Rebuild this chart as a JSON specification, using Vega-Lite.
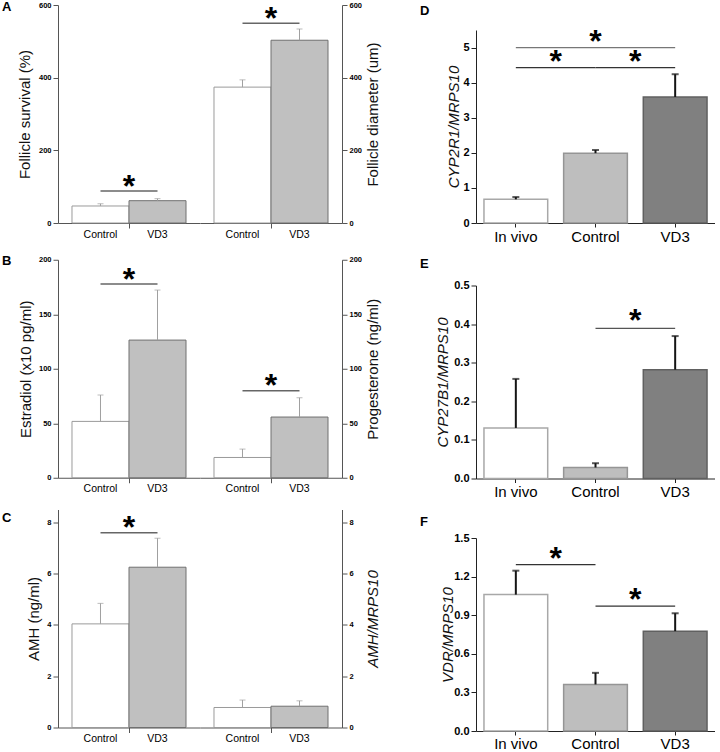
{
  "$schema": "https://vega.github.io/schema/vega-lite/v6.json",
  "padding": {"left": 2, "top": 1, "right": 0, "bottom": 0},
  "config": {
    "font": "Liberation Sans",
    "view": {"stroke": null},
    "axis": {"grid": false, "labelColor": "#000", "titleColor": "#111"},
    "title": {"color": "#000"}
  },
  "spacing": 40,
  "resolve": {"scale": {"fill": "independent", "stroke": "independent", "color": "independent"}},
  "hconcat": [
    {
      "spacing": 14.75,
      "vconcat": [
        {
          "spacing": 0, "bounds": "flush",
          "hconcat": [
            {
              "width": 142, "height": 218,
              "title": {"text": "A", "orient": "top", "anchor": "start", "frame": "group", "dx": -56, "offset": -13, "fontSize": 13, "fontWeight": "bold"},
              "data": {"values": [{"group": "Control", "mean": 46.8, "upper": 53}, {"group": "VD3", "mean": 61.4, "upper": 67}]},
              "encoding": {"x": {"field": "group", "type": "nominal", "scale": {"domain": ["Control", "VD3"], "paddingInner": 0, "paddingOuter": 0.2456}, "axis": {"title": null, "labelAngle": 0, "labelFontSize": 10.5, "labelPadding": 1, "tickSize": 5, "bandPosition": 1, "tickOpacity": {"condition": {"test": "datum.value == 'Control'", "value": 1}, "value": 0}, "domainColor": "#555", "tickColor": "#555"}}},
              "layer": [
                {"mark": {"type": "bar", "strokeWidth": 1}, "encoding": {
                  "y": {"field": "mean", "type": "quantitative", "scale": {"domain": [0, 600], "nice": false}, "axis": {"title": "Follicle survival (%)", "titleFontSize": 15, "titleFontWeight": "normal", "titleX": -25.5, "titleY": 109, "titleAngle": 270, "titleBaseline": "bottom", "values": [0, 100, 200, 300, 400, 500, 600], "labelOverlap": false, "labelExpr": "datum.value % 200 == 0 ? datum.label : ''", "labelFontSize": 7.5, "labelFontWeight": "bold", "labelPadding": 2, "tickSize": {"condition": {"test": "datum.value % 200 == 0", "value": 5}, "value": 3}, "domainColor": "#555", "tickColor": "#555"}},
                  "fill": {"field": "group", "type": "nominal", "scale": {"domain": ["Control", "VD3"], "range": ["#ffffff", "#c0c0c0"]}, "legend": null},
                  "stroke": {"field": "group", "type": "nominal", "scale": {"domain": ["Control", "VD3"], "range": ["#9a9a9a", "#707070"]}, "legend": null}}},
                {"mark": {"type": "rule", "color": "#a0a0a0", "strokeWidth": 1}, "encoding": {"y": {"field": "mean", "type": "quantitative"}, "y2": {"field": "upper"}}},
                {"mark": {"type": "tick", "color": "#a0a0a0", "size": 6, "thickness": 1}, "encoding": {"y": {"field": "upper", "type": "quantitative"}}},
                {"data": {"values": [{"from": "Control", "to": "VD3", "y": 88}]}, "layer": [
                  {"mark": {"type": "rule", "color": "#666", "strokeWidth": 1.5}, "encoding": {"x": {"field": "from", "type": "nominal"}, "x2": {"field": "to"}, "y": {"field": "y", "type": "quantitative"}}},
                  {"mark": {"type": "text", "text": "*", "fontSize": 32, "fontWeight": "bold", "baseline": "alphabetic", "dy": 5.5}, "encoding": {"x": {"field": "to", "type": "nominal", "bandPosition": 0}, "y": {"field": "y", "type": "quantitative"}}}
                ]}
              ]
            },
            {
              "width": 142, "height": 218,
              "data": {"values": [{"group": "Control", "mean": 374, "upper": 394}, {"group": "VD3", "mean": 503, "upper": 534}]},
              "encoding": {"x": {"field": "group", "type": "nominal", "scale": {"domain": ["Control", "VD3"], "paddingInner": 0, "paddingOuter": 0.2456}, "axis": {"title": null, "labelAngle": 0, "labelFontSize": 10.5, "labelPadding": 1, "tickSize": 5, "bandPosition": 1, "tickOpacity": {"condition": {"test": "datum.value == 'Control'", "value": 1}, "value": 0}, "domainColor": "#555", "tickColor": "#555"}}},
              "layer": [
                {"mark": {"type": "bar", "strokeWidth": 1}, "encoding": {
                  "y": {"field": "mean", "type": "quantitative", "scale": {"domain": [0, 600], "nice": false}, "axis": {"orient": "right", "title": "Follicle diameter (um)", "titleFontSize": 15, "titleFontWeight": "normal", "titleX": 38, "titleY": 109, "titleAngle": 270, "titleBaseline": "bottom", "values": [0, 100, 200, 300, 400, 500, 600], "labelOverlap": false, "labelExpr": "datum.value % 200 == 0 ? datum.label : ''", "labelFontSize": 7.5, "labelFontWeight": "bold", "labelPadding": 2, "tickSize": {"condition": {"test": "datum.value % 200 == 0", "value": 5}, "value": 3}, "domainColor": "#555", "tickColor": "#555"}},
                  "fill": {"field": "group", "type": "nominal", "scale": {"domain": ["Control", "VD3"], "range": ["#ffffff", "#c0c0c0"]}, "legend": null},
                  "stroke": {"field": "group", "type": "nominal", "scale": {"domain": ["Control", "VD3"], "range": ["#9a9a9a", "#707070"]}, "legend": null}}},
                {"mark": {"type": "rule", "color": "#a0a0a0", "strokeWidth": 1}, "encoding": {"y": {"field": "mean", "type": "quantitative"}, "y2": {"field": "upper"}}},
                {"mark": {"type": "tick", "color": "#a0a0a0", "size": 6, "thickness": 1}, "encoding": {"y": {"field": "upper", "type": "quantitative"}}},
                {"data": {"values": [{"from": "Control", "to": "VD3", "y": 550}]}, "layer": [
                  {"mark": {"type": "rule", "color": "#666", "strokeWidth": 1.5}, "encoding": {"x": {"field": "from", "type": "nominal"}, "x2": {"field": "to"}, "y": {"field": "y", "type": "quantitative"}}},
                  {"mark": {"type": "text", "text": "*", "fontSize": 32, "fontWeight": "bold", "baseline": "alphabetic", "dy": 5.5}, "encoding": {"x": {"field": "to", "type": "nominal", "bandPosition": 0}, "y": {"field": "y", "type": "quantitative"}}}
                ]}
              ]
            }
          ]
        },
        {
          "spacing": 0, "bounds": "flush",
          "hconcat": [
            {
              "width": 142, "height": 218,
              "title": {"text": "B", "orient": "top", "anchor": "start", "frame": "group", "dx": -56, "offset": -12.5, "fontSize": 13, "fontWeight": "bold"},
              "data": {"values": [{"group": "Control", "mean": 51.7, "upper": 75.9}, {"group": "VD3", "mean": 126.3, "upper": 172.2}]},
              "encoding": {"x": {"field": "group", "type": "nominal", "scale": {"domain": ["Control", "VD3"], "paddingInner": 0, "paddingOuter": 0.2456}, "axis": {"title": null, "labelAngle": 0, "labelFontSize": 10.5, "labelPadding": 1, "tickSize": 5, "bandPosition": 1, "tickOpacity": {"condition": {"test": "datum.value == 'Control'", "value": 1}, "value": 0}, "domainColor": "#555", "tickColor": "#555"}}},
              "layer": [
                {"mark": {"type": "bar", "strokeWidth": 1}, "encoding": {
                  "y": {"field": "mean", "type": "quantitative", "scale": {"domain": [0, 200], "nice": false}, "axis": {"title": "Estradiol (x10 pg/ml)", "titleFontSize": 15, "titleFontWeight": "normal", "titleX": -24.5, "titleY": 109, "titleAngle": 270, "titleBaseline": "bottom", "values": [0, 25, 50, 75, 100, 125, 150, 175, 200], "labelOverlap": false, "labelExpr": "datum.value % 50 == 0 ? datum.label : ''", "labelFontSize": 7.5, "labelFontWeight": "bold", "labelPadding": 2, "tickSize": {"condition": {"test": "datum.value % 50 == 0", "value": 5}, "value": 3}, "domainColor": "#555", "tickColor": "#555"}},
                  "fill": {"field": "group", "type": "nominal", "scale": {"domain": ["Control", "VD3"], "range": ["#ffffff", "#c0c0c0"]}, "legend": null},
                  "stroke": {"field": "group", "type": "nominal", "scale": {"domain": ["Control", "VD3"], "range": ["#9a9a9a", "#707070"]}, "legend": null}}},
                {"mark": {"type": "rule", "color": "#a0a0a0", "strokeWidth": 1}, "encoding": {"y": {"field": "mean", "type": "quantitative"}, "y2": {"field": "upper"}}},
                {"mark": {"type": "tick", "color": "#a0a0a0", "size": 6, "thickness": 1}, "encoding": {"y": {"field": "upper", "type": "quantitative"}}},
                {"data": {"values": [{"from": "Control", "to": "VD3", "y": 177.7}]}, "layer": [
                  {"mark": {"type": "rule", "color": "#666", "strokeWidth": 1.5}, "encoding": {"x": {"field": "from", "type": "nominal"}, "x2": {"field": "to"}, "y": {"field": "y", "type": "quantitative"}}},
                  {"mark": {"type": "text", "text": "*", "fontSize": 32, "fontWeight": "bold", "baseline": "alphabetic", "dy": 5.5}, "encoding": {"x": {"field": "to", "type": "nominal", "bandPosition": 0}, "y": {"field": "y", "type": "quantitative"}}}
                ]}
              ]
            },
            {
              "width": 142, "height": 218,
              "data": {"values": [{"group": "Control", "mean": 18.6, "upper": 26.3}, {"group": "VD3", "mean": 55.7, "upper": 73.4}]},
              "encoding": {"x": {"field": "group", "type": "nominal", "scale": {"domain": ["Control", "VD3"], "paddingInner": 0, "paddingOuter": 0.2456}, "axis": {"title": null, "labelAngle": 0, "labelFontSize": 10.5, "labelPadding": 1, "tickSize": 5, "bandPosition": 1, "tickOpacity": {"condition": {"test": "datum.value == 'Control'", "value": 1}, "value": 0}, "domainColor": "#555", "tickColor": "#555"}}},
              "layer": [
                {"mark": {"type": "bar", "strokeWidth": 1}, "encoding": {
                  "y": {"field": "mean", "type": "quantitative", "scale": {"domain": [0, 200], "nice": false}, "axis": {"orient": "right", "title": "Progesterone (ng/ml)", "titleFontSize": 15, "titleFontWeight": "normal", "titleX": 38, "titleY": 109, "titleAngle": 270, "titleBaseline": "bottom", "values": [0, 25, 50, 75, 100, 125, 150, 175, 200], "labelOverlap": false, "labelExpr": "datum.value % 50 == 0 ? datum.label : ''", "labelFontSize": 7.5, "labelFontWeight": "bold", "labelPadding": 2, "tickSize": {"condition": {"test": "datum.value % 50 == 0", "value": 5}, "value": 3}, "domainColor": "#555", "tickColor": "#555"}},
                  "fill": {"field": "group", "type": "nominal", "scale": {"domain": ["Control", "VD3"], "range": ["#ffffff", "#c0c0c0"]}, "legend": null},
                  "stroke": {"field": "group", "type": "nominal", "scale": {"domain": ["Control", "VD3"], "range": ["#9a9a9a", "#707070"]}, "legend": null}}},
                {"mark": {"type": "rule", "color": "#a0a0a0", "strokeWidth": 1}, "encoding": {"y": {"field": "mean", "type": "quantitative"}, "y2": {"field": "upper"}}},
                {"mark": {"type": "tick", "color": "#a0a0a0", "size": 6, "thickness": 1}, "encoding": {"y": {"field": "upper", "type": "quantitative"}}},
                {"data": {"values": [{"from": "Control", "to": "VD3", "y": 79.8}]}, "layer": [
                  {"mark": {"type": "rule", "color": "#666", "strokeWidth": 1.5}, "encoding": {"x": {"field": "from", "type": "nominal"}, "x2": {"field": "to"}, "y": {"field": "y", "type": "quantitative"}}},
                  {"mark": {"type": "text", "text": "*", "fontSize": 32, "fontWeight": "bold", "baseline": "alphabetic", "dy": 5.5}, "encoding": {"x": {"field": "to", "type": "nominal", "bandPosition": 0}, "y": {"field": "y", "type": "quantitative"}}}
                ]}
              ]
            }
          ]
        },
        {
          "spacing": 0, "bounds": "flush",
          "hconcat": [
            {
              "width": 142, "height": 218,
              "title": {"text": "C", "orient": "top", "anchor": "start", "frame": "group", "dx": -56, "offset": -15.5, "fontSize": 13, "fontWeight": "bold"},
              "data": {"values": [{"group": "Control", "mean": 4.04, "upper": 4.84}, {"group": "VD3", "mean": 6.25, "upper": 7.38}]},
              "encoding": {"x": {"field": "group", "type": "nominal", "scale": {"domain": ["Control", "VD3"], "paddingInner": 0, "paddingOuter": 0.2456}, "axis": {"title": null, "labelAngle": 0, "labelFontSize": 10.5, "labelPadding": 1, "tickSize": 5, "bandPosition": 1, "tickOpacity": {"condition": {"test": "datum.value == 'Control'", "value": 1}, "value": 0}, "domainColor": "#555", "tickColor": "#555"}}},
              "layer": [
                {"mark": {"type": "bar", "strokeWidth": 1}, "encoding": {
                  "y": {"field": "mean", "type": "quantitative", "scale": {"domain": [0, 8.5], "nice": false}, "axis": {"title": "AMH (ng/ml)", "titleFontSize": 15, "titleFontWeight": "normal", "titleX": -17, "titleY": 109, "titleAngle": 270, "titleBaseline": "bottom", "values": [0, 1, 2, 3, 4, 5, 6, 7, 8], "labelOverlap": false, "labelExpr": "datum.value % 2 == 0 ? datum.label : ''", "labelFontSize": 7.5, "labelFontWeight": "bold", "labelPadding": 2, "tickSize": {"condition": {"test": "datum.value % 2 == 0", "value": 5}, "value": 3}, "domainColor": "#555", "tickColor": "#555"}},
                  "fill": {"field": "group", "type": "nominal", "scale": {"domain": ["Control", "VD3"], "range": ["#ffffff", "#c0c0c0"]}, "legend": null},
                  "stroke": {"field": "group", "type": "nominal", "scale": {"domain": ["Control", "VD3"], "range": ["#9a9a9a", "#707070"]}, "legend": null}}},
                {"mark": {"type": "rule", "color": "#a0a0a0", "strokeWidth": 1}, "encoding": {"y": {"field": "mean", "type": "quantitative"}, "y2": {"field": "upper"}}},
                {"mark": {"type": "tick", "color": "#a0a0a0", "size": 6, "thickness": 1}, "encoding": {"y": {"field": "upper", "type": "quantitative"}}},
                {"data": {"values": [{"from": "Control", "to": "VD3", "y": 7.59}]}, "layer": [
                  {"mark": {"type": "rule", "color": "#666", "strokeWidth": 1.5}, "encoding": {"x": {"field": "from", "type": "nominal"}, "x2": {"field": "to"}, "y": {"field": "y", "type": "quantitative"}}},
                  {"mark": {"type": "text", "text": "*", "fontSize": 32, "fontWeight": "bold", "baseline": "alphabetic", "dy": 5.5}, "encoding": {"x": {"field": "to", "type": "nominal", "bandPosition": 0}, "y": {"field": "y", "type": "quantitative"}}}
                ]}
              ]
            },
            {
              "width": 142, "height": 218,
              "data": {"values": [{"group": "Control", "mean": 0.78, "upper": 1.07}, {"group": "VD3", "mean": 0.83, "upper": 1.04}]},
              "encoding": {"x": {"field": "group", "type": "nominal", "scale": {"domain": ["Control", "VD3"], "paddingInner": 0, "paddingOuter": 0.2456}, "axis": {"title": null, "labelAngle": 0, "labelFontSize": 10.5, "labelPadding": 1, "tickSize": 5, "bandPosition": 1, "tickOpacity": {"condition": {"test": "datum.value == 'Control'", "value": 1}, "value": 0}, "domainColor": "#555", "tickColor": "#555"}}},
              "layer": [
                {"mark": {"type": "bar", "strokeWidth": 1}, "encoding": {
                  "y": {"field": "mean", "type": "quantitative", "scale": {"domain": [0, 8.5], "nice": false}, "axis": {"orient": "right", "title": "AMH/MRPS10", "titleFontStyle": "italic", "titleFontSize": 15, "titleFontWeight": "normal", "titleX": 38, "titleY": 109, "titleAngle": 270, "titleBaseline": "bottom", "values": [0, 1, 2, 3, 4, 5, 6, 7, 8], "labelOverlap": false, "labelExpr": "datum.value % 2 == 0 ? datum.label : ''", "labelFontSize": 7.5, "labelFontWeight": "bold", "labelPadding": 2, "tickSize": {"condition": {"test": "datum.value % 2 == 0", "value": 5}, "value": 3}, "domainColor": "#555", "tickColor": "#555"}},
                  "fill": {"field": "group", "type": "nominal", "scale": {"domain": ["Control", "VD3"], "range": ["#ffffff", "#c0c0c0"]}, "legend": null},
                  "stroke": {"field": "group", "type": "nominal", "scale": {"domain": ["Control", "VD3"], "range": ["#9a9a9a", "#707070"]}, "legend": null}}},
                {"mark": {"type": "rule", "color": "#a0a0a0", "strokeWidth": 1}, "encoding": {"y": {"field": "mean", "type": "quantitative"}, "y2": {"field": "upper"}}},
                {"mark": {"type": "tick", "color": "#a0a0a0", "size": 6, "thickness": 1}, "encoding": {"y": {"field": "upper", "type": "quantitative"}}}
              ]
            }
          ]
        }
      ]
    },
    {
      "spacing": 13.5,
      "vconcat": [
        {
          "width": 239, "height": 218,
          "title": {"text": "D", "orient": "top", "anchor": "start", "frame": "group", "dx": -56, "offset": -13.25, "fontSize": 13, "fontWeight": "bold"},
          "data": {"values": [{"group": "In vivo", "mean": 0.675, "upper": 0.74}, {"group": "Control", "mean": 1.99, "upper": 2.08}, {"group": "VD3", "mean": 3.59, "upper": 4.24}]},
          "encoding": {"x": {"field": "group", "type": "nominal", "scale": {"domain": ["In vivo", "Control", "VD3"], "paddingInner": 0.2, "paddingOuter": 0.1}, "axis": {"title": null, "labelAngle": 0, "labelFontSize": 15, "labelPadding": 2, "tickSize": 4, "domainColor": "#222", "tickColor": "#222"}}},
          "layer": [
            {"mark": {"type": "bar", "strokeWidth": 1.5}, "encoding": {
              "y": {"field": "mean", "type": "quantitative", "scale": {"domain": [0, 5.5], "nice": false, "range": [218, 25]}, "axis": {"title": "CYP2R1/MRPS10", "titleFontStyle": "italic", "titleFontSize": 15, "titleFontWeight": "normal", "titleX": -15, "titleY": 121.5, "titleAngle": 270, "titleBaseline": "bottom", "values": [0, 0.5, 1, 1.5, 2, 2.5, 3, 3.5, 4, 4.5, 5], "format": ".0f", "labelOverlap": false, "labelExpr": "datum.value % 1 == 0 ? datum.label : ''", "labelFontSize": 11, "labelFontWeight": "bold", "labelPadding": 2, "tickSize": {"condition": {"test": "datum.value % 1 == 0", "value": 5}, "value": 3}, "domainColor": "#222", "tickColor": "#222"}},
              "fill": {"field": "group", "type": "nominal", "scale": {"domain": ["In vivo", "Control", "VD3"], "range": ["#ffffff", "#bebebe", "#808080"]}, "legend": null},
              "stroke": {"field": "group", "type": "nominal", "scale": {"domain": ["In vivo", "Control", "VD3"], "range": ["#a8a8a8", "#959595", "#606060"]}, "legend": null}}},
            {"mark": {"type": "rule", "color": "#151515", "strokeWidth": 2}, "encoding": {"y": {"field": "mean", "type": "quantitative"}, "y2": {"field": "upper"}}},
            {"mark": {"type": "tick", "color": "#151515", "size": 7, "thickness": 2}, "encoding": {"y": {"field": "upper", "type": "quantitative"}}},
            {"data": {"values": [{"from": "In vivo", "to": "VD3", "y": 5.0, "kind": "long"}, {"from": "In vivo", "to": "Control", "y": 4.43, "kind": "short"}, {"from": "Control", "to": "VD3", "y": 4.43, "kind": "short"}]}, "layer": [
              {"mark": {"type": "rule", "strokeWidth": 1.3}, "encoding": {"x": {"field": "from", "type": "nominal"}, "x2": {"field": "to"}, "y": {"field": "y", "type": "quantitative"}, "color": {"field": "kind", "type": "nominal", "scale": {"domain": ["long", "short"], "range": ["#777777", "#333333"]}, "legend": null}}},
              {"transform": [{"filter": "datum.kind == 'short'"}], "mark": {"type": "text", "text": "*", "fontSize": 32, "fontWeight": "bold", "baseline": "alphabetic", "dy": 4}, "encoding": {"x": {"field": "to", "type": "nominal", "bandPosition": -0.125}, "y": {"field": "y", "type": "quantitative"}}},
              {"transform": [{"filter": "datum.kind == 'long'"}], "mark": {"type": "text", "text": "*", "fontSize": 32, "fontWeight": "bold", "baseline": "alphabetic", "dy": 4}, "encoding": {"x": {"datum": "Control", "type": "nominal"}, "y": {"field": "y", "type": "quantitative"}}}
            ]}
          ]
        },
        {
          "width": 239, "height": 218,
          "title": {"text": "E", "orient": "top", "anchor": "start", "frame": "group", "dx": -56, "offset": -10.5, "fontSize": 13, "fontWeight": "bold"},
          "data": {"values": [{"group": "In vivo", "mean": 0.131, "upper": 0.258}, {"group": "Control", "mean": 0.0285, "upper": 0.0396}, {"group": "VD3", "mean": 0.282, "upper": 0.369}]},
          "encoding": {"x": {"field": "group", "type": "nominal", "scale": {"domain": ["In vivo", "Control", "VD3"], "paddingInner": 0.2, "paddingOuter": 0.1}, "axis": {"title": null, "labelAngle": 0, "labelFontSize": 15, "labelPadding": 2, "tickSize": 4, "domainColor": "#222", "tickColor": "#222"}}},
          "layer": [
            {"mark": {"type": "bar", "strokeWidth": 1.5}, "encoding": {
              "y": {"field": "mean", "type": "quantitative", "scale": {"domain": [0, 0.5], "nice": false, "range": [218, 25]}, "axis": {"title": "CYP27B1/MRPS10", "titleFontStyle": "italic", "titleFontSize": 15, "titleFontWeight": "normal", "titleX": -26, "titleY": 121.5, "titleAngle": 270, "titleBaseline": "bottom", "values": [0, 0.05, 0.1, 0.15, 0.2, 0.25, 0.3, 0.35, 0.4, 0.45, 0.5], "format": ".1f", "labelOverlap": false, "labelExpr": "indexof([0, 0.1, 0.2, 0.3, 0.4, 0.5], datum.value) >= 0 ? datum.label : ''", "labelFontSize": 11, "labelFontWeight": "bold", "labelPadding": 2, "tickSize": {"condition": {"test": "indexof([0, 0.1, 0.2, 0.3, 0.4, 0.5], datum.value) >= 0", "value": 5}, "value": 3}, "domainColor": "#222", "tickColor": "#222"}},
              "fill": {"field": "group", "type": "nominal", "scale": {"domain": ["In vivo", "Control", "VD3"], "range": ["#ffffff", "#bebebe", "#808080"]}, "legend": null},
              "stroke": {"field": "group", "type": "nominal", "scale": {"domain": ["In vivo", "Control", "VD3"], "range": ["#a8a8a8", "#959595", "#606060"]}, "legend": null}}},
            {"mark": {"type": "rule", "color": "#151515", "strokeWidth": 2}, "encoding": {"y": {"field": "mean", "type": "quantitative"}, "y2": {"field": "upper"}}},
            {"mark": {"type": "tick", "color": "#151515", "size": 7, "thickness": 2}, "encoding": {"y": {"field": "upper", "type": "quantitative"}}},
            {"data": {"values": [{"from": "Control", "to": "VD3", "y": 0.389}]}, "layer": [
              {"mark": {"type": "rule", "strokeWidth": 1.3, "color": "#555"}, "encoding": {"x": {"field": "from", "type": "nominal"}, "x2": {"field": "to"}, "y": {"field": "y", "type": "quantitative"}}},
              {"mark": {"type": "text", "text": "*", "fontSize": 32, "fontWeight": "bold", "baseline": "alphabetic", "dy": 3}, "encoding": {"x": {"field": "to", "type": "nominal", "bandPosition": -0.125}, "y": {"field": "y", "type": "quantitative"}}}
            ]}
          ]
        },
        {
          "width": 239, "height": 218,
          "title": {"text": "F", "orient": "top", "anchor": "start", "frame": "group", "dx": -56, "offset": -15.6, "fontSize": 13, "fontWeight": "bold"},
          "data": {"values": [{"group": "In vivo", "mean": 1.06, "upper": 1.246}, {"group": "Control", "mean": 0.362, "upper": 0.452}, {"group": "VD3", "mean": 0.776, "upper": 0.915}]},
          "encoding": {"x": {"field": "group", "type": "nominal", "scale": {"domain": ["In vivo", "Control", "VD3"], "paddingInner": 0.2, "paddingOuter": 0.1}, "axis": {"title": null, "labelAngle": 0, "labelFontSize": 15, "labelPadding": 1, "tickSize": 4, "domainColor": "#222", "tickColor": "#222"}}},
          "layer": [
            {"mark": {"type": "bar", "strokeWidth": 1.5}, "encoding": {
              "y": {"field": "mean", "type": "quantitative", "scale": {"domain": [0, 1.5], "nice": false, "range": [218, 25]}, "axis": {"title": "VDR/MRPS10", "titleFontStyle": "italic", "titleFontSize": 15, "titleFontWeight": "normal", "titleX": -20.5, "titleY": 121.5, "titleAngle": 270, "titleBaseline": "bottom", "values": [0, 0.15, 0.3, 0.45, 0.6, 0.75, 0.9, 1.05, 1.2, 1.35, 1.5], "format": ".1f", "labelOverlap": false, "labelExpr": "indexof([0, 0.3, 0.6, 0.9, 1.2, 1.5], datum.value) >= 0 ? datum.label : ''", "labelFontSize": 11, "labelFontWeight": "bold", "labelPadding": 2, "tickSize": {"condition": {"test": "indexof([0, 0.3, 0.6, 0.9, 1.2, 1.5], datum.value) >= 0", "value": 5}, "value": 3}, "domainColor": "#222", "tickColor": "#222"}},
              "fill": {"field": "group", "type": "nominal", "scale": {"domain": ["In vivo", "Control", "VD3"], "range": ["#ffffff", "#bebebe", "#808080"]}, "legend": null},
              "stroke": {"field": "group", "type": "nominal", "scale": {"domain": ["In vivo", "Control", "VD3"], "range": ["#a8a8a8", "#959595", "#606060"]}, "legend": null}}},
            {"mark": {"type": "rule", "color": "#151515", "strokeWidth": 2}, "encoding": {"y": {"field": "mean", "type": "quantitative"}, "y2": {"field": "upper"}}},
            {"mark": {"type": "tick", "color": "#151515", "size": 7, "thickness": 2}, "encoding": {"y": {"field": "upper", "type": "quantitative"}}},
            {"data": {"values": [{"from": "In vivo", "to": "Control", "y": 1.293}, {"from": "Control", "to": "VD3", "y": 0.97}]}, "layer": [
              {"mark": {"type": "rule", "strokeWidth": 1.3, "color": "#333"}, "encoding": {"x": {"field": "from", "type": "nominal"}, "x2": {"field": "to"}, "y": {"field": "y", "type": "quantitative"}}},
              {"mark": {"type": "text", "text": "*", "fontSize": 32, "fontWeight": "bold", "baseline": "alphabetic", "dy": 4}, "encoding": {"x": {"field": "to", "type": "nominal", "bandPosition": -0.125}, "y": {"field": "y", "type": "quantitative"}}}
            ]}
          ]
        }
      ]
    }
  ]
}
